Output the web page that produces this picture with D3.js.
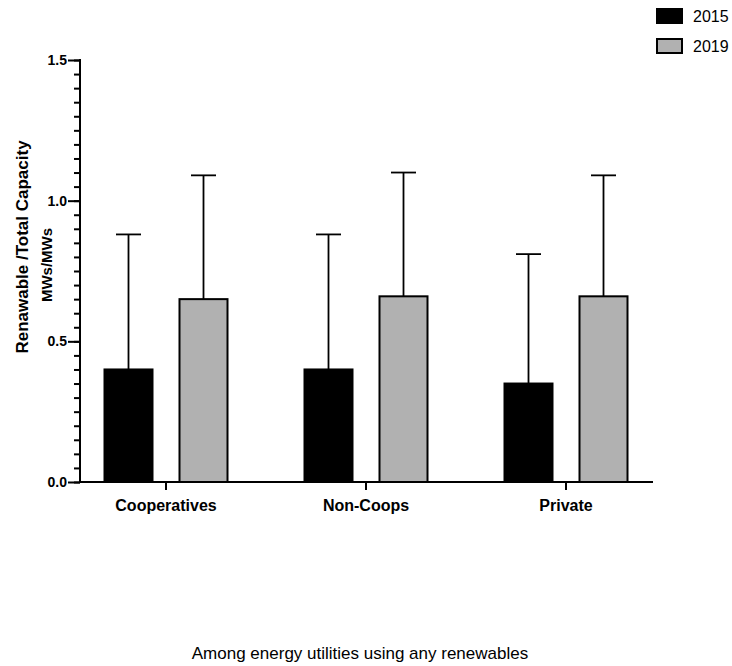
<!DOCTYPE html>
<html>
<head>
<meta charset="utf-8">
<script src="https://cdn.jsdelivr.net/npm/d3@7"></script>
<style>
  body { margin: 0; background: #fff; }
  svg { font-family: "Liberation Sans", Arial, sans-serif; }
</style>
</head>
<body>
<div id="chart"></div>
<script>
// data
const categories = ["Cooperatives", "Non-Coops", "Private"];
const years = ["2015", "2019"];
const mean2015 = [0.40, 0.40, 0.35];
const mean2019 = [0.65, 0.66, 0.66];
const sd2015 = [0.48, 0.48, 0.46];
const sd2019 = [0.44, 0.44, 0.43];
const yTicks = [0, 0.5, 1.0, 1.5];

const width = 732, height = 666;
const fills = {"2015": "#000000", "2019": "#b1b1b1"};

const rows = [];
categories.forEach(function (c, i) {
    rows.push({cat: c, year: "2015", mean: mean2015[i], sd: sd2015[i]});
    rows.push({cat: c, year: "2019", mean: mean2019[i], sd: sd2019[i]});
});

const svg = d3.select("#chart")
    .append("svg")
    .attr("width", width)
    .attr("height", height);

// scales
const x0 = d3.scaleBand()
    .domain(categories)
    .range([66, 666])
    .paddingInner(0.385)
    .paddingOuter(0.1925);

const x1 = d3.scaleBand()
    .domain(years)
    .range([0, x0.bandwidth()])
    .paddingInner(0.36);

const y = d3.scaleLinear()
    .domain([0, 1.5])
    .range([482, 60]);

// minor ticks on y
svg.append("g")
    .attr("transform", "translate(80,0)")
    .call(d3.axisLeft(y).tickValues(d3.range(0, 1.5001, 0.05)).tickSize(6).tickFormat(""))
    .call(g => g.select(".domain").remove())
    .call(g => g.selectAll("line").attr("stroke-width", 2));

// major ticks on y
const yAxis = svg.append("g")
    .attr("transform", "translate(80,0)")
    .call(d3.axisLeft(y).tickValues(yTicks).tickSize(12).tickPadding(1).tickFormat(d3.format(".1f")));
yAxis.select(".domain").remove();
yAxis.selectAll("line").attr("stroke-width", 2);
yAxis.selectAll("text")
    .style("font-size", "14px")
    .style("font-weight", "bold")
    .attr("fill", "#000");

svg.append("line")
    .attr("x1", 80).attr("x2", 80)
    .attr("y1", y(1.5) - 1).attr("y2", y(0) + 1)
    .attr("stroke", "#000")
    .attr("stroke-width", 2);

// bars
const bars = svg.append("g");
bars.selectAll("rect")
    .data(rows)
    .enter()
    .append("rect")
        .attr("x", d => x0(d.cat) + x1(d.year))
        .attr("y", d => y(d.mean))
        .attr("width", x1.bandwidth())
        .attr("height", d => y(0) - y(d.mean))
        .attr("fill", d => fills[d.year])
        .attr("stroke", "#000")
        .attr("stroke-width", 2);

// error bars (upper only)
const err = svg.append("g").attr("stroke", "#000").attr("stroke-width", 1.8);
err.selectAll(".stem")
    .data(rows)
    .enter()
    .append("line")
        .attr("class", "stem")
        .attr("x1", d => x0(d.cat) + x1(d.year) + x1.bandwidth() / 2)
        .attr("x2", d => x0(d.cat) + x1(d.year) + x1.bandwidth() / 2)
        .attr("y1", d => y(d.mean))
        .attr("y2", d => y(d.mean + d.sd));
err.selectAll(".cap")
    .data(rows)
    .enter()
    .append("line")
        .attr("class", "cap")
        .attr("x1", d => x0(d.cat) + x1(d.year) + x1.bandwidth() / 2 - 12.5)
        .attr("x2", d => x0(d.cat) + x1(d.year) + x1.bandwidth() / 2 + 12.5)
        .attr("y1", d => y(d.mean + d.sd))
        .attr("y2", d => y(d.mean + d.sd));

// x axis
const xAxis = svg.append("g")
    .attr("transform", `translate(0, ${y(0)})`)
    .call(d3.axisBottom(x0).tickSize(8).tickPadding(10));
xAxis.select(".domain").remove();
xAxis.selectAll("line").attr("stroke-width", 2);
xAxis.selectAll("text")
    .style("font-size", "16px")
    .style("font-weight", "bold")
    .attr("fill", "#000");

svg.append("line")
    .attr("x1", 79).attr("x2", 653)
    .attr("y1", y(0)).attr("y2", y(0))
    .attr("stroke", "#000")
    .attr("stroke-width", 2);

// y axis title
svg.append("text")
    .attr("transform", "translate(28,247) rotate(-90)")
    .attr("text-anchor", "middle")
    .style("font-size", "17px")
    .style("font-weight", "bold")
    .text("Renawable /Total Capacity");
svg.append("text")
    .attr("transform", "translate(52,265) rotate(-90)")
    .attr("text-anchor", "middle")
    .style("font-size", "15px")
    .style("font-weight", "bold")
    .text("MWs/MWs");

// legend
const legend = svg.selectAll(".legend")
    .data(years)
    .enter()
    .append("g")
        .attr("class", "legend")
        .attr("transform", (d, i) => `translate(657, ${9 + i * 30})`);
legend.append("rect")
    .attr("width", 25)
    .attr("height", 14)
    .attr("fill", d => fills[d])
    .attr("stroke", "#000")
    .attr("stroke-width", 2);
legend.append("text")
    .attr("x", 36)
    .attr("y", 7)
    .attr("dy", "0.35em")
    .style("font-size", "16px")
    .text(d => d);

// caption
svg.append("text")
    .attr("x", 360)
    .attr("y", 659)
    .attr("text-anchor", "middle")
    .style("font-size", "17px")
    .text("Among energy utilities using any renewables");
</script>
</body>
</html>
